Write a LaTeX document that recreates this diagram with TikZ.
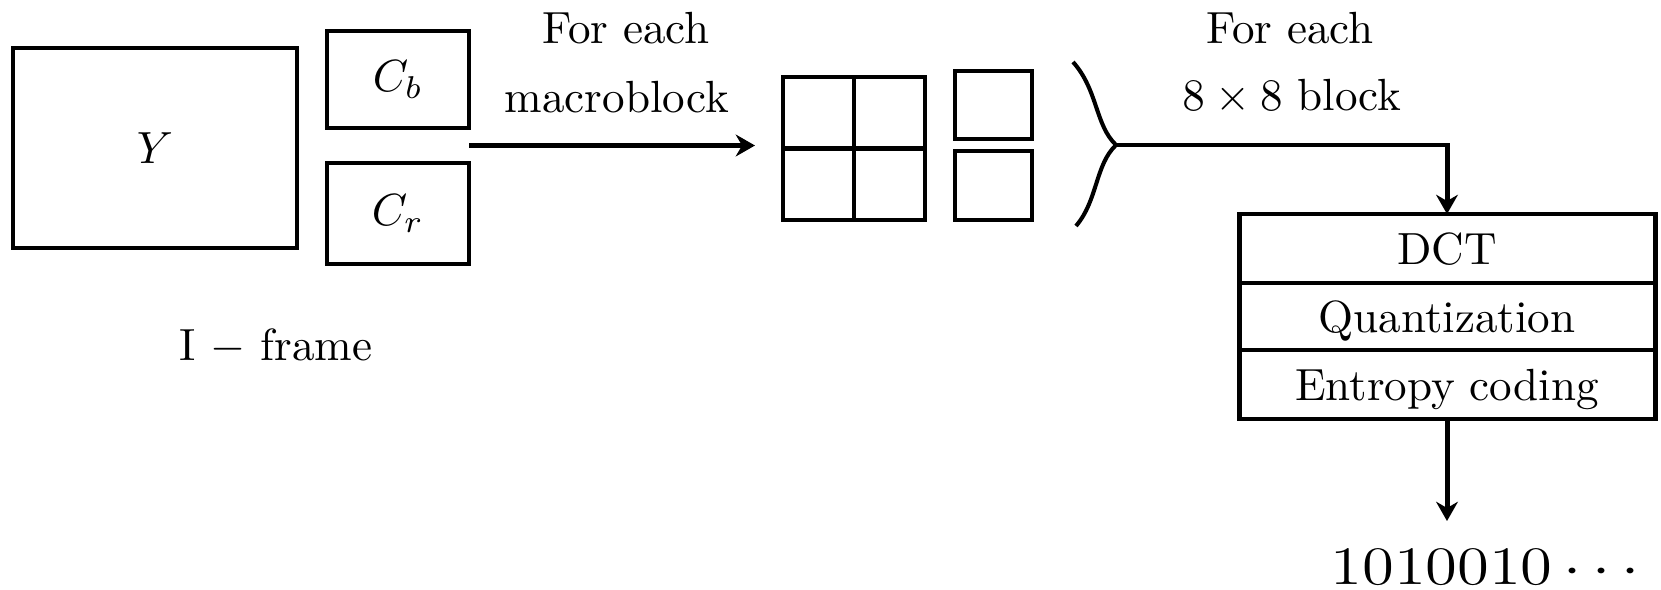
\documentclass[tikz,border=0pt]{standalone}
\usetikzlibrary{arrows.meta,calc}
\begin{document}
\begin{tikzpicture}[x=0.0078cm,y=-0.0078cm,
  box/.style={draw,line width=1.1pt,inner sep=0pt,outer sep=0pt},
  lbl/.style={inner sep=0pt,font=\fontsize{10}{12}\selectfont},
  rowbox/.style={box,minimum width=416*0.0078cm,text height=7pt,text depth=0pt},
  ln/.style={line width=1.1pt},
  arr/.style={line width=1.1pt,-{Stealth[length=1.5mm,width=1.7mm]}}]
\useasboundingbox (0,0) rectangle (1661,589);
% I-frame
\node[box,minimum width=284*0.0078cm,minimum height=200*0.0078cm] (Y) at (155,148) {$Y$};
\node[box,minimum width=142*0.0078cm,minimum height=97*0.0078cm] (Cb) at (398,79.5) {$C_b$};
\node[box,minimum width=142*0.0078cm,minimum height=101*0.0078cm] (Cr) at (398,213.5) {$C_r$};
\node[lbl] (ifr) at (276,346) {I $-$ frame};
% macroblock
\node[box,minimum width=142*0.0078cm,minimum height=143*0.0078cm,
  path picture={\draw[ln] (path picture bounding box.north) -- (path picture bounding box.south);
                \draw[ln] (path picture bounding box.west) -- (path picture bounding box.east);}] (mb) at (854,148.5) {};
\node[box,minimum width=77*0.0078cm,minimum height=68*0.0078cm] (sb1) at (993.5,105) {};
\node[box,minimum width=77*0.0078cm,minimum height=69*0.0078cm] (sb2) at (993.5,185.5) {};
\node[lbl] (fe1) at (626,28) {For each};
\node[lbl] (mbt) at (617,97) {macroblock};
\coordinate (mid) at ($(Cb.south east)!0.5!(Cr.north east)$);
\draw[arr,shorten >=28*0.0078cm] (mid) -- (mid -| mb.west);
% brace
\coordinate (tip) at (1116,145);
\draw[line width=0.9pt] (1073,62) .. controls (1098,90) and (1095,125) .. (tip) .. controls (1095,165) and (1098,200) .. (1076,226);
\node[lbl] (fe2) at (1290,28) {For each};
\node[lbl] (bt) at (1292,97) {$8\times 8$ block};
% coding stack
\node[rowbox,minimum height=69*0.0078cm] (dct) at (1447,248.5) {DCT};
\node[rowbox,minimum height=67*0.0078cm] (qu) at (1447,316.5) {Quantization};
\node[rowbox,minimum height=69*0.0078cm] (ent) at (1447,384.5) {Entropy coding};
\draw[arr] (tip) -| (dct.north);
% output
\node[lbl,font=\fontsize{12}{14}\selectfont] (out) at (1485,567) {\scalebox{1.2}[1]{$1010010\cdots$}};
\coordinate (outarr) at (1447,521);
\draw[arr] (ent.south) -- (outarr);
\end{tikzpicture}
\end{document}
